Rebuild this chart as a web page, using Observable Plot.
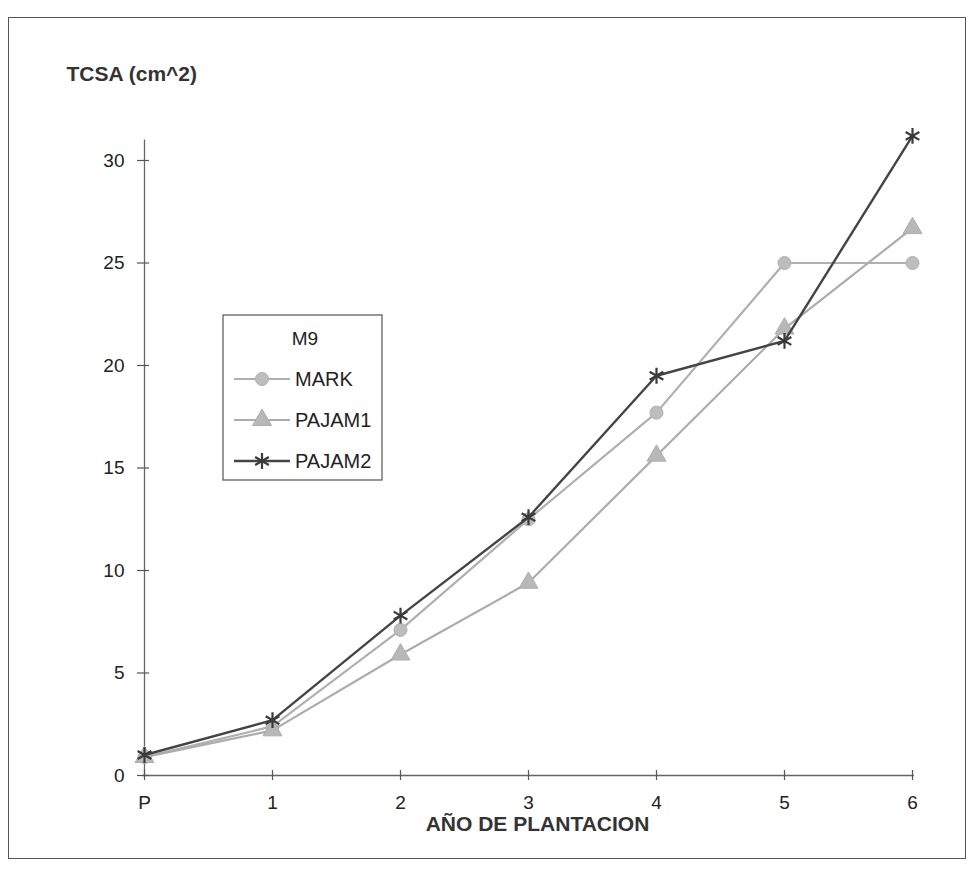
<!DOCTYPE html>
<html>
<head>
<meta charset="utf-8">
<script src="https://cdn.jsdelivr.net/npm/d3@7"></script>
<script src="https://cdn.jsdelivr.net/npm/@observablehq/plot@0.6"></script>
<style>
  html, body { margin: 0; padding: 0; background: #fff; }
  #wrap { position: relative; width: 972px; height: 871px; font-family: "Liberation Sans", Arial, sans-serif; }
  #frame { position: absolute; left: 8px; top: 17px; width: 958px; height: 842px; border: 1.5px solid #555; box-sizing: border-box; pointer-events: none; }
  #legend { position: absolute; left: 0; top: 0; }
</style>
</head>
<body>
<div id="wrap"><div id="frame"></div></div>
<script>
const years = ["P", "1", "2", "3", "4", "5", "6"];
const seriesNames = ["MARK", "PAJAM1", "PAJAM2"];
const mark   = [0.9, 2.4, 7.1, 12.5, 17.7, 25.0, 25.0];
const pajam1 = [0.9, 2.2, 5.9, 9.4, 15.6, 21.8, 26.7];
const pajam2 = [1.0, 2.7, 7.8, 12.6, 19.5, 21.2, 31.2];
const yTicks = [0, 5, 10, 15, 20, 25, 30];
const legendTitle = "M9";
const yTitle = "TCSA (cm^2)";
const xTitle = "AÑO DE PLANTACION";

const seriesValues = [mark, pajam1, pajam2];
const styles = {
  MARK:   {stroke: "#b0b0b0", fill: "#bdbdbd", symbol: "circle",   r: 6.5, sw: 2.2},
  PAJAM1: {stroke: "#acacac", fill: "#b8b8b8", symbol: "triangle", r: 7,   sw: 2.2},
  PAJAM2: {stroke: "#444444", fill: "none",    symbol: "asterisk", r: 7.5, sw: 2.4}
};
const data = seriesNames.flatMap((s, k) => years.map((yr, i) => ({series: s, year: yr, value: seriesValues[k][i]})));

const lineMarks = [];
for (const s of seriesNames) {
  const st = styles[s];
  const d = data.filter(e => e.series === s);
  lineMarks.push(Plot.line(d, {x: "year", y: "value", stroke: st.stroke, strokeWidth: st.sw}));
  lineMarks.push(Plot.dot(d, {x: "year", y: "value", symbol: () => st.symbol, r: st.r,
    fill: st.symbol === "asterisk" ? "none" : st.fill,
    stroke: st.symbol === "asterisk" ? "#3a3a3a" : st.stroke,
    strokeWidth: st.symbol === "asterisk" ? 2.2 : 1}));
}

const chart = Plot.plot({
  width: 972,
  height: 871,
  marginLeft: 142,
  marginRight: 58,
  marginTop: 139.5,
  marginBottom: 96,
  style: {fontFamily: "'Liberation Sans', Arial, sans-serif", fontSize: "19px", color: "#222", background: "transparent"},
  x: {type: "point", domain: years, padding: 0},
  y: {domain: [0, 31]},
  symbol: {type: "identity"},
  marks: [
    Plot.axisX({tickSize: 0, tickPadding: 20, label: null, fontSize: 19}),
    Plot.axisY(yTicks, {tickSize: 0, tickPadding: 18, label: null, fontSize: 19}),
    Plot.ruleY([0], {stroke: "#666", strokeWidth: 1.3}),
    Plot.ruleX(["P"], {y1: 0, y2: 31, stroke: "#666", strokeWidth: 1.3}),
    Plot.ruleY(yTicks, {y: d => d, x1: () => "P", x2: () => "P", insetLeft: -7, insetRight: -5, stroke: "#555", strokeWidth: 1.2}),
    Plot.ruleX(years, {x: d => d, y1: () => 0, y2: () => 0, insetTop: -5, insetBottom: -5, stroke: "#555", strokeWidth: 1.2}),
    ...lineMarks,
    Plot.text([yTitle], {frameAnchor: "top-left", dx: -76, dy: -74, textAnchor: "start", fontWeight: "bold", fontSize: 21, fill: "#333"}),
    Plot.text([xTitle], {frameAnchor: "bottom", dx: 9, dy: 55, fontWeight: "bold", fontSize: 21, fill: "#333"})
  ]
});
document.getElementById("wrap").prepend(chart);

// Legend overlay
const lg = d3.select("#wrap").append("svg").attr("id", "legend").attr("width", 972).attr("height", 871);
const box = {x: 223, y: 315, w: 159, h: 165};
lg.append("rect").attr("x", box.x).attr("y", box.y).attr("width", box.w).attr("height", box.h)
  .attr("fill", "#fff").attr("stroke", "#555").attr("stroke-width", 1.2);
lg.append("text").attr("x", 305).attr("y", 338).attr("dy", "0.35em").attr("text-anchor", "middle")
  .attr("font-family", "Liberation Sans, Arial, sans-serif").attr("font-size", 19).attr("fill", "#222").text(legendTitle);
const symGen = {circle: d3.symbolCircle, triangle: d3.symbolTriangle, asterisk: d3.symbolAsterisk};
seriesNames.forEach((s, i) => {
  const st = styles[s];
  const cy = 379 + i * 41;
  lg.append("line").attr("x1", 234).attr("x2", 290).attr("y1", cy).attr("y2", cy)
    .attr("stroke", st.stroke).attr("stroke-width", st.sw);
  const area = Math.PI * st.r * st.r;
  lg.append("path").attr("transform", `translate(262,${cy})`)
    .attr("d", d3.symbol(symGen[st.symbol], area)())
    .attr("fill", st.symbol === "asterisk" ? "none" : st.fill)
    .attr("stroke", st.symbol === "asterisk" ? "#3a3a3a" : st.stroke)
    .attr("stroke-width", st.symbol === "asterisk" ? 2.2 : 1);
  lg.append("text").attr("x", 295).attr("y", cy).attr("dy", "0.35em")
    .attr("font-family", "Liberation Sans, Arial, sans-serif").attr("font-size", 20).attr("fill", "#222").text(s);
});
</script>
</body>
</html>
